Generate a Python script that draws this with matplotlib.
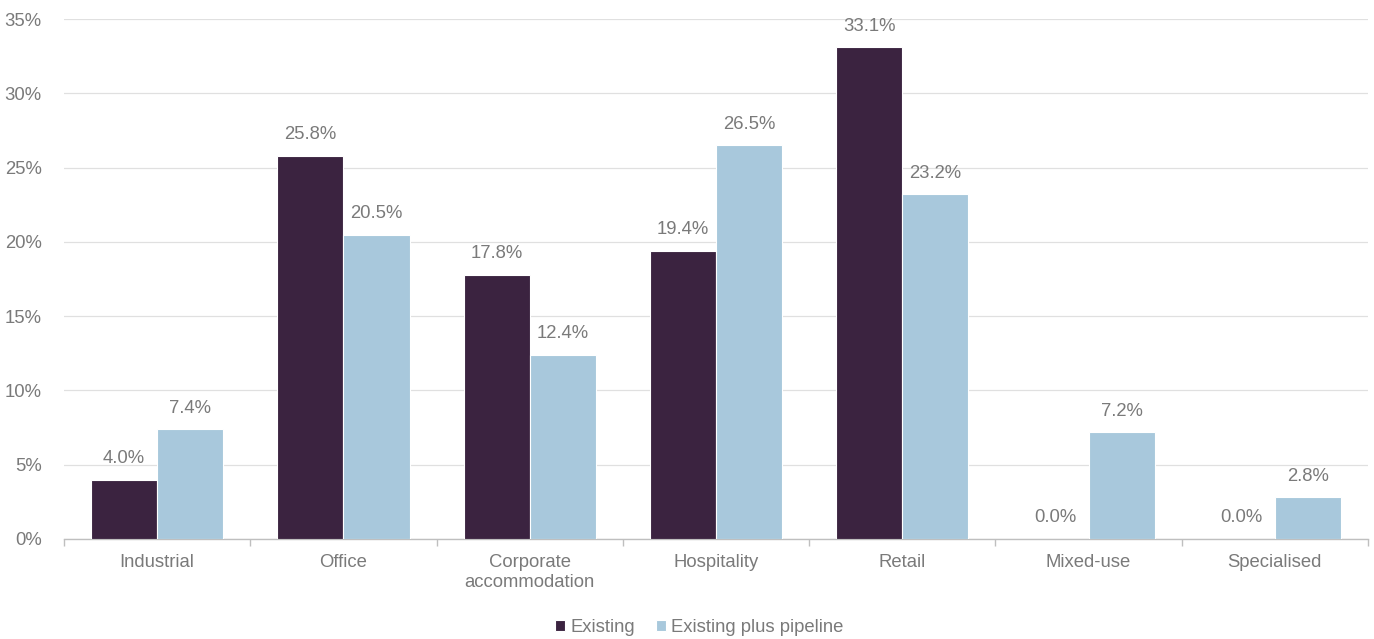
import numpy as np
import matplotlib.pyplot as plt
from matplotlib.ticker import PercentFormatter, FixedLocator

plt.rcParams['font.family'] = ['Liberation Sans', 'DejaVu Sans']

categories = ['Industrial', 'Office', 'Corporate\naccommodation', 'Hospitality',
              'Retail', 'Mixed-use', 'Specialised']
existing = [4.0, 25.8, 17.8, 19.4, 33.1, 0.0, 0.0]
pipeline = [7.4, 20.5, 12.4, 26.5, 23.2, 7.2, 2.8]
series_names = ['Existing', 'Existing plus pipeline']

dark = '#3B2340'
light = '#A8C8DC'
grey = '#7A7A7A'
fs = 13.3

fig = plt.figure(figsize=(13.74, 6.39), dpi=100)
ax = fig.add_axes([0.0466, 0.1565, 0.9490, 0.8135])

x = np.arange(len(categories))
w = 0.355
b1 = ax.bar(x - w / 2, existing, w, color=dark, edgecolor='white', linewidth=0.8,
            label=series_names[0], zorder=3)
b2 = ax.bar(x + w / 2, pipeline, w, color=light, edgecolor='white', linewidth=0.8,
            label=series_names[1], zorder=3)

for bars, vals in [(b1, existing), (b2, pipeline)]:
    for r, v in zip(bars, vals):
        ax.annotate(f'{v:.1f}%', (r.get_x() + r.get_width() / 2, v),
                    xytext=(0, 9), textcoords='offset points',
                    ha='center', va='bottom', fontsize=fs, color=grey)

ax.set_xlim(-0.5, len(categories) - 0.5)
ax.set_ylim(0, 35)
ax.yaxis.set_major_formatter(PercentFormatter(decimals=0))
ax.set_yticks(np.arange(0, 36, 5))
ax.grid(axis='y', color='#E0E0E0', linewidth=0.9, zorder=0)

ax.set_xticks(x)
ax.set_xticklabels(categories)
ax.xaxis.set_minor_locator(FixedLocator(np.arange(-0.5, len(categories), 1)))
ax.tick_params(axis='x', which='major', length=0, pad=11, labelsize=fs, labelcolor=grey)
ax.tick_params(axis='x', which='minor', length=5, color='#BFBFBF', width=1)
ax.tick_params(axis='y', length=0, pad=16, labelsize=fs, labelcolor=grey)

for s in ['top', 'right', 'left']:
    ax.spines[s].set_visible(False)
ax.spines['bottom'].set_color('#BFBFBF')
ax.spines['bottom'].set_linewidth(1)

fig.legend(loc='lower center', bbox_to_anchor=(0.509, -0.022), ncol=2, frameon=False,
           fontsize=fs, labelcolor=grey, handlelength=0.55, handleheight=0.55,
           handletextpad=0.3, columnspacing=1.1)

fig.savefig('out.png', dpi=100)
